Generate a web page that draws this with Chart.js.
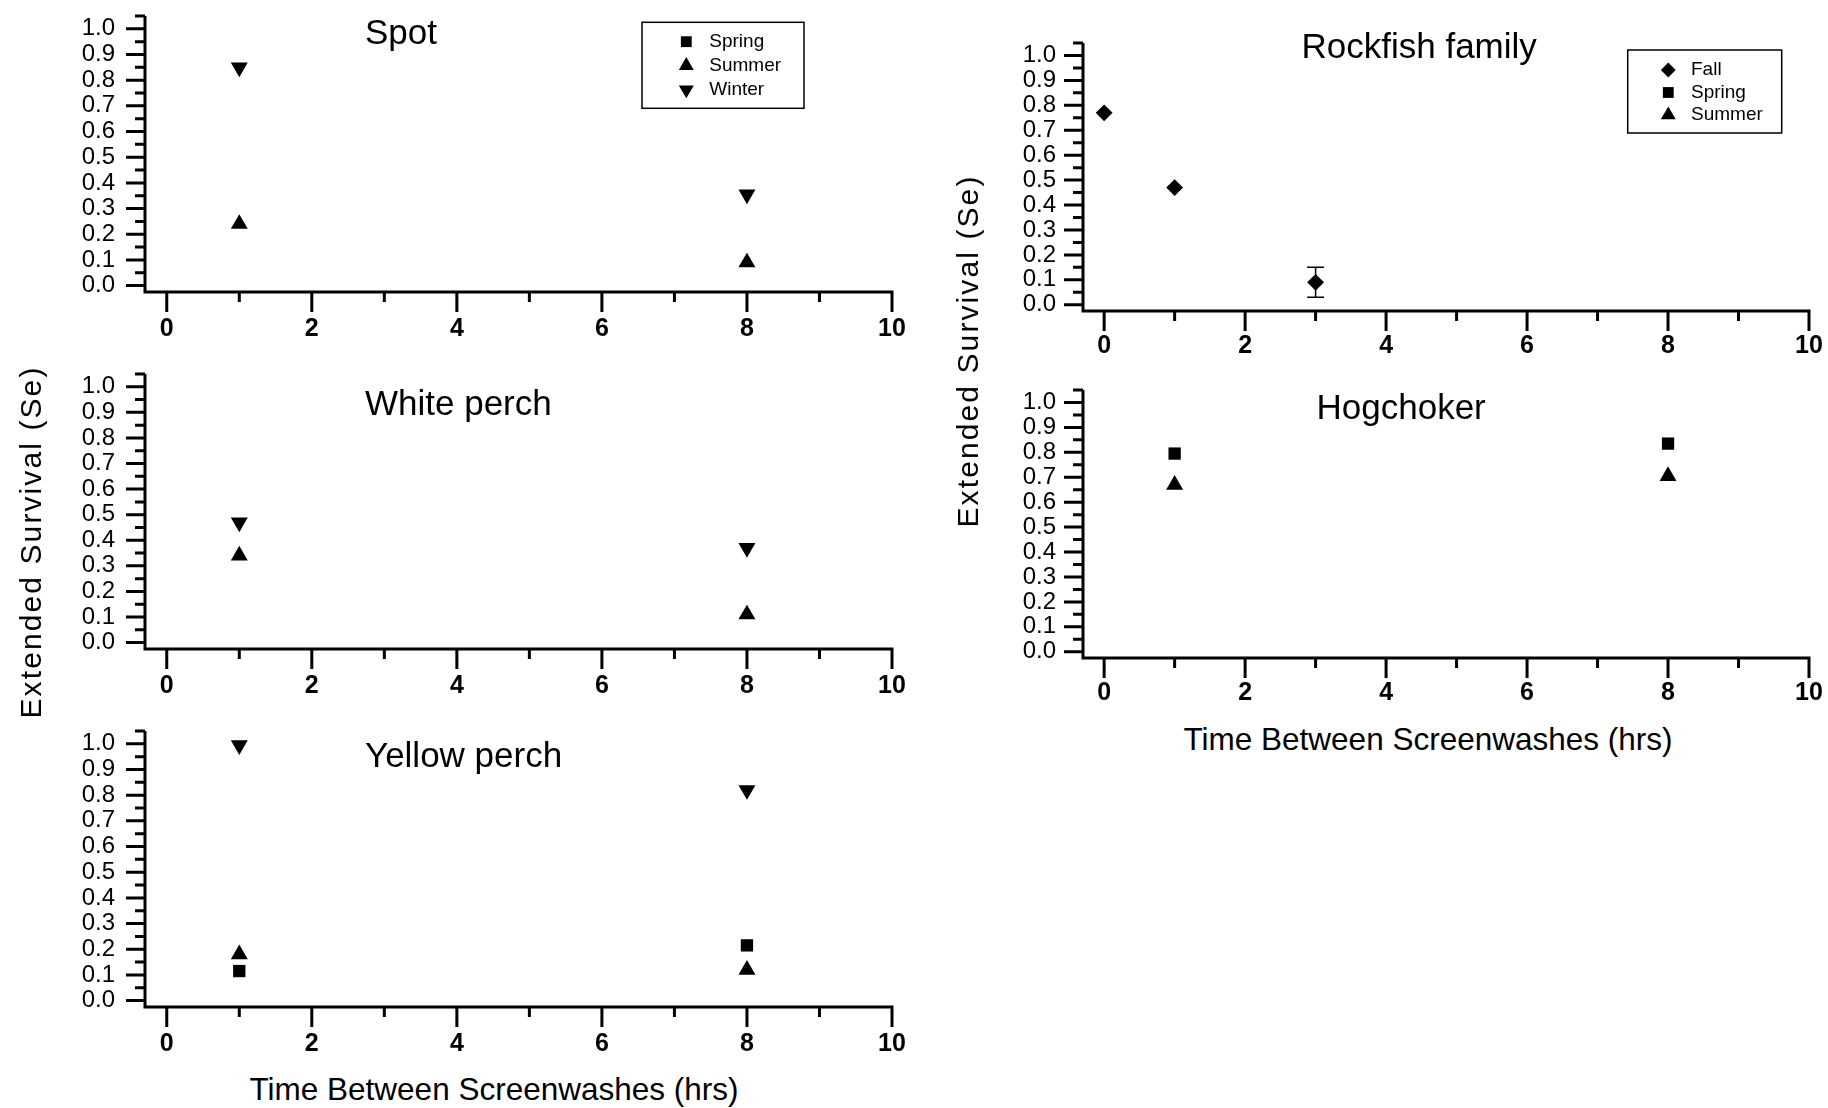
<!DOCTYPE html>
<html>
<head>
<meta charset="utf-8">
<script src="https://cdn.jsdelivr.net/npm/chart.js@4.4.1/dist/chart.umd.min.js"></script>
<style>
  html, body { margin: 0; padding: 0; background: #fff; }
  #page { position: relative; width: 1828px; height: 1108px; overflow: hidden; font-family: 'Liberation Sans', Arial, Helvetica, sans-serif; }
  canvas { position: absolute; }
  .axis-title { position: absolute; width: 600px; height: 40px; line-height: 40px; text-align: center; white-space: nowrap; color: #000; }
  .axis-title.y { font-size: 30px; letter-spacing: 2.1px; transform: rotate(-90deg); }
  .axis-title.x { font-size: 31.5px; }
</style>
</head>
<body>
<div id="page">
  <canvas id="spot"></canvas>
  <canvas id="whitePerch"></canvas>
  <canvas id="yellowPerch"></canvas>
  <canvas id="rockfish"></canvas>
  <canvas id="hogchoker"></canvas>
  <div class="axis-title y" style="left:-269px; top:522px;">Extended Survival (Se)</div>
  <div class="axis-title y" style="left:668px; top:331px;">Extended Survival (Se)</div>
  <div class="axis-title x" style="left:194px; top:1069px;">Time Between Screenwashes (hrs)</div>
  <div class="axis-title x" style="left:1128px; top:719px;">Time Between Screenwashes (hrs)</div>
</div>
<script>
// axis ticks
const xTicks = [0, 2, 4, 6, 8, 10];
const yTicks = [0.0, 0.1, 0.2, 0.3, 0.4, 0.5, 0.6, 0.7, 0.8, 0.9, 1.0];

// hours between screenwashes
const hours = [1, 8];
const rockfishHours = [0, 1, 3];

// extended survival values
const spotSummer = [0.24, 0.09];
const spotWinter = [0.85, 0.355];

const whitePerchSummer = [0.34, 0.11];
const whitePerchWinter = [0.47, 0.37];

const yellowPerchSpring = [0.115, 0.215];
const yellowPerchSummer = [0.18, 0.12];
const yellowPerchWinter = [0.995, 0.82];

const rockfishFall = [0.77, 0.47, 0.09];
const rockfishFallErr = [0, 0, 0.06];

const hogchokerSpring = [0.795, 0.835];
const hogchokerSummer = [0.67, 0.705];

const FONT = "'Liberation Sans', Arial, Helvetica, sans-serif";
const xMinor = xTicks.slice(0, -1).map(v => v + 1);
const yMinor = yTicks.map(v => v + 0.05);

const MARKERS = {
    Spring: { pointStyle: 'rect', pointRadius: 8.7, pointRotation: 0 },
    Summer: { pointStyle: 'triangle', pointRadius: 9.8, pointRotation: 0 },
    Winter: { pointStyle: 'triangle', pointRadius: 9.8, pointRotation: 180 },
    Fall: { pointStyle: 'rectRot', pointRadius: 8.4, pointRotation: 0 }
};

function makeDataset(label, xs, ys, errs) {
    const m = MARKERS[label];
    return {
        label: label,
        data: ys.map((y, i) => ({ x: xs[i], y: y })),
        errors: errs || [],
        pointStyle: m.pointStyle,
        pointRadius: m.pointRadius,
        pointHoverRadius: m.pointRadius,
        pointRotation: m.pointRotation,
        backgroundColor: '#000',
        borderColor: '#000',
        borderWidth: 0,
        showLine: false
    };
}

// axes, ticks, error bars, panel title and legend
const framePlugin = {
    id: 'frame',
    beforeDatasetsDraw(chart, args, opts) {
        const ctx = chart.ctx;
        const a = chart.chartArea;
        const x = chart.scales.x, y = chart.scales.y;
        ctx.save();
        ctx.strokeStyle = '#000';
        ctx.lineWidth = 3;
        ctx.beginPath();
        ctx.moveTo(a.left, a.top);
        ctx.lineTo(a.left, a.bottom + 1.5);
        ctx.moveTo(a.left - 1.5, a.bottom);
        ctx.lineTo(x.getPixelForValue(xTicks[xTicks.length - 1]) + 1.5, a.bottom);
        yTicks.forEach(v => {
            const py = y.getPixelForValue(v);
            ctx.moveTo(a.left - 19, py);
            ctx.lineTo(a.left, py);
        });
        yMinor.forEach(v => {
            const py = y.getPixelForValue(v);
            ctx.moveTo(a.left - 10, py);
            ctx.lineTo(a.left, py);
        });
        xTicks.forEach(v => {
            const px = x.getPixelForValue(v);
            ctx.moveTo(px, a.bottom);
            ctx.lineTo(px, a.bottom + 20);
        });
        xMinor.forEach(v => {
            const px = x.getPixelForValue(v);
            ctx.moveTo(px, a.bottom);
            ctx.lineTo(px, a.bottom + 10);
        });
        ctx.stroke();

        // error bars
        ctx.lineWidth = 1.5;
        chart.data.datasets.forEach(ds => {
            ds.data.forEach((p, i) => {
                const e = ds.errors[i];
                if (!e) return;
                const px = x.getPixelForValue(p.x);
                const y1 = y.getPixelForValue(p.y + e);
                const y2 = y.getPixelForValue(p.y - e);
                ctx.beginPath();
                ctx.moveTo(px, y1); ctx.lineTo(px, y2);
                ctx.moveTo(px - 8.5, y1); ctx.lineTo(px + 8.5, y1);
                ctx.moveTo(px - 8.5, y2); ctx.lineTo(px + 8.5, y2);
                ctx.stroke();
            });
        });
        ctx.restore();
    },
    afterDraw(chart, args, opts) {
        const ctx = chart.ctx;
        const a = chart.chartArea;
        ctx.save();
        ctx.fillStyle = '#000';
        ctx.strokeStyle = '#000';
        ctx.font = '35px ' + FONT;
        ctx.textAlign = 'left';
        ctx.textBaseline = 'middle';
        ctx.fillText(opts.title, a.left + opts.titleX, a.top + opts.titleY);

        const L = opts.legend;
        if (L) {
            const bx = a.left + L.dx, by = a.top + L.dy;
            ctx.lineWidth = 1.5;
            ctx.strokeRect(bx, by, L.w, L.h);
            ctx.font = '19px ' + FONT;
            chart.data.datasets.forEach((ds, i) => {
                const cy = by + L.firstY + i * L.gap;
                Chart.helpers.drawPoint(ctx, {
                    pointStyle: ds.pointStyle,
                    radius: ds.pointRadius * 0.88,
                    rotation: ds.pointRotation,
                    borderWidth: 0
                }, bx + L.markX, cy);
                ctx.fillStyle = '#000';
                ctx.fillText(ds.label, bx + L.textX, cy);
            });
        }
        ctx.restore();
    }
};

function makePanel(id, box, title, titlePos, xPad, yPad, datasets, legend) {
    const [l, t, r, b] = box;
    const canvas = document.getElementById(id);
    canvas.width = (r - l) + 145 + 30;
    canvas.height = (b - t) + 16 + 60;
    canvas.style.left = (l - 145) + 'px';
    canvas.style.top = (t - 16) + 'px';

    return new Chart(canvas.getContext('2d'), {
        type: 'scatter',
        data: { datasets: datasets },
        plugins: [framePlugin],
        options: {
            responsive: false,
            animation: false,
            devicePixelRatio: 1,
            events: [],
            layout: { padding: { left: 0, top: 16, right: 30, bottom: 0 } },
            plugins: {
                legend: { display: false },
                tooltip: { enabled: false },
                frame: { title: title, titleX: titlePos[0], titleY: titlePos[1], legend: legend }
            },
            scales: {
                x: {
                    type: 'linear',
                    min: -0.3,
                    max: 10,
                    afterBuildTicks: s => { s.ticks = xTicks.map(v => ({ value: v })); },
                    afterFit: s => { s.height = 60; s.paddingLeft = 0; s.paddingRight = 0; },
                    grid: { display: false, drawTicks: false },
                    border: { display: false },
                    ticks: {
                        padding: xPad,
                        autoSkip: false,
                        maxRotation: 0,
                        color: '#000',
                        font: { family: FONT, size: 25, weight: 'bold' },
                        callback: v => String(v)
                    }
                },
                y: {
                    min: -0.025,
                    max: 1.05,
                    afterBuildTicks: s => { s.ticks = yTicks.map(v => ({ value: v })); },
                    afterFit: s => { s.width = 145; s.paddingTop = 0; s.paddingBottom = 0; },
                    grid: { display: false, drawTicks: false },
                    border: { display: false },
                    ticks: {
                        padding: yPad,
                        autoSkip: false,
                        color: '#000',
                        font: { family: FONT, size: 24 },
                        callback: v => v.toFixed(1)
                    }
                }
            }
        }
    });
}

makePanel('spot', [145, 16, 892, 292], 'Spot', [220, 18.5], 22, 30, [
    makeDataset('Spring', hours, []),
    makeDataset('Summer', hours, spotSummer),
    makeDataset('Winter', hours, spotWinter)
], { dx: 497, dy: 6.3, w: 162, h: 86, firstY: 19.4, gap: 24, markX: 44.3, textX: 67.3 });

makePanel('whitePerch', [145, 374, 892, 649], 'White perch', [220, 31], 22, 30, [
    makeDataset('Summer', hours, whitePerchSummer),
    makeDataset('Winter', hours, whitePerchWinter)
], null);

makePanel('yellowPerch', [145, 731, 892, 1007], 'Yellow perch', [220, 26.5], 22, 30, [
    makeDataset('Spring', hours, yellowPerchSpring),
    makeDataset('Summer', hours, yellowPerchSummer),
    makeDataset('Winter', hours, yellowPerchWinter)
], null);

makePanel('rockfish', [1083, 43, 1809, 311], 'Rockfish family', [218.5, 5], 20, 27, [
    makeDataset('Fall', rockfishHours, rockfishFall, rockfishFallErr),
    makeDataset('Spring', hours, []),
    makeDataset('Summer', hours, [])
], { dx: 544.7, dy: 7, w: 154, h: 83, firstY: 20, gap: 22.5, markX: 40.6, textX: 63.3 });

makePanel('hogchoker', [1083, 390, 1809, 658], 'Hogchoker', [233.5, 19], 20, 27, [
    makeDataset('Spring', hours, hogchokerSpring),
    makeDataset('Summer', hours, hogchokerSummer)
], null);
</script>
</body>
</html>
